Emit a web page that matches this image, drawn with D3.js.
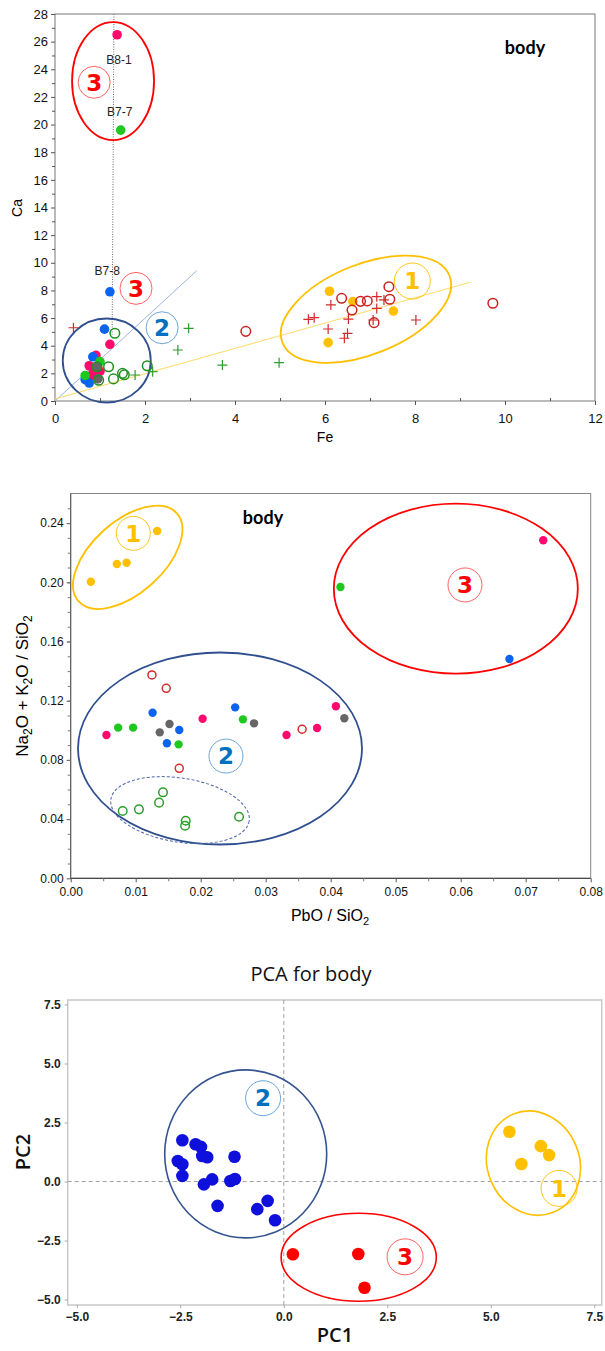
<!DOCTYPE html>
<html>
<head>
<meta charset="utf-8">
<script src="https://cdn.jsdelivr.net/npm/d3@7"></script>
<style>
  body { margin: 0; background: #fff; }
  svg { display: block; }
</style>
</head>
<body>
<div id="chart"></div>
<script>
// ---- panel 1 : Fe vs Ca ----
const feCaPink = [[1.38, 26.5], [1.22, 4.1], [0.91, 3.3], [0.76, 2.55], [0.78, 1.8], [1.0, 2.15], [0.86, 2.1]];
const feCaGreen = [[1.46, 19.6], [0.67, 1.85], [1.0, 2.85]];
const feCaBlue = [[1.22, 7.9], [1.1, 5.2], [0.84, 3.2], [0.67, 1.55], [0.76, 1.3]];
const feCaGrey = [[0.93, 2.45], [0.95, 1.6]];
const feCaYellow = [[6.1, 7.94], [6.62, 7.19], [7.52, 6.51], [6.07, 4.22]];
const feCaRedOpen = [[6.37, 7.43], [6.6, 6.58], [6.79, 7.21], [6.94, 7.24], [7.42, 8.27], [7.44, 7.36], [7.09, 5.67], [9.73, 7.07], [4.24, 5.04]];
const feCaGreenOpen = [[1.33, 4.9], [2.05, 2.55], [1.5, 2.0], [1.54, 1.9], [1.3, 1.6], [1.19, 2.48], [0.97, 1.5], [0.93, 2.48]];
const feCaRedPlus = [[0.41, 5.3], [6.13, 6.95], [5.63, 5.91], [5.76, 6.03], [6.07, 5.21], [6.52, 5.93], [6.5, 4.9], [6.43, 4.54], [7.15, 7.55], [7.15, 6.7], [7.07, 5.86], [7.31, 7.31], [8.02, 5.86]];
const feCaGreenPlus = [[2.97, 5.26], [2.73, 3.69], [3.72, 2.6], [4.98, 2.77], [2.17, 2.12], [1.78, 1.88]];
const feCaLabels = [['B8-1', 1.42, 24.7], ['B7-7', 1.44, 20.9], ['B7-8', 1.16, 9.4]];
const feTicks = [0, 2, 4, 6, 8, 10, 12];
const caTicks = d3.range(0, 29, 2);

// ---- panel 2 : PbO/SiO2 vs (Na2O+K2O)/SiO2 ----
const pbNaYellow = [[0.0031, 0.2004], [0.0071, 0.2124], [0.0086, 0.2132], [0.0133, 0.2347]];
const pbNaPink = [[0.0727, 0.2284], [0.0055, 0.0968], [0.0203, 0.1078], [0.0332, 0.0968], [0.0379, 0.1016], [0.0408, 0.1162]];
const pbNaGreen = [[0.0415, 0.1968], [0.0073, 0.1018], [0.0096, 0.1018], [0.0166, 0.0905], [0.0265, 0.1074]];
const pbNaBlue = [[0.0675, 0.1482], [0.0126, 0.1119], [0.0167, 0.1002], [0.0148, 0.0912], [0.0253, 0.1155]];
const pbNaGrey = [[0.0137, 0.0986], [0.0152, 0.1043], [0.0282, 0.1047], [0.0421, 0.1081]];
const pbNaRedOpen = [[0.0125, 0.1374], [0.0147, 0.1284], [0.0167, 0.0743], [0.0356, 0.1007]];
const pbNaGreenOpen = [[0.0080, 0.0455], [0.0105, 0.0466], [0.0136, 0.0511], [0.0142, 0.0581], [0.0177, 0.0389], [0.0176, 0.0355], [0.0259, 0.0416]];
const pbTicks = d3.range(0, 0.081, 0.01);
const naTicks = d3.range(0, 0.241, 0.04);

// ---- panel 3 : PCA ----
const pcaGroup1 = [[5.45, 2.11], [6.21, 1.50], [6.41, 1.12], [5.74, 0.74]];
const pcaGroup2 = [[-2.45, 1.75], [-2.13, 1.58], [-2.0, 1.47], [-2.56, 0.87], [-2.45, 0.73], [-2.45, 0.24], [-1.97, 1.08], [-1.85, 1.03], [-1.19, 1.05], [-1.93, -0.12], [-1.73, 0.09], [-1.29, 0.02], [-1.18, 0.11], [-1.6, -1.03], [-0.64, -1.17], [-0.39, -0.82], [-0.21, -1.64]];
const pcaGroup3 = [[0.22, -3.08], [1.8, -3.07], [1.95, -4.5]];
const pcTicks = [-5, -2.5, 0, 2.5, 5, 7.5];

const RED = '#ff0000', BLUE2 = '#0070c0', GOLD = '#ffc000', NAVY = '#2f4f8f';

const svg = d3.select('#chart').append('svg')
  .attr('width', 605)
  .attr('height', 1351)
  .style('font-family', 'Liberation Sans, Arial, sans-serif');

function drawEllipse(g, x, y, e) {
  g.append('ellipse')
    .attr('transform', `translate(${x(e.cx)},${y(e.cy)}) rotate(${e.rot || 0})`)
    .attr('rx', e.rx)
    .attr('ry', e.ry)
    .attr('fill', 'none')
    .attr('stroke', e.color)
    .attr('stroke-width', e.w || 1.8)
    .attr('stroke-dasharray', e.dash || null);
}

function drawBadge(g, x, y, b) {
  g.append('circle')
    .attr('cx', x(b.cx)).attr('cy', y(b.cy)).attr('r', b.r)
    .attr('fill', 'none')
    .attr('stroke', b.ring || b.color)
    .attr('stroke-width', 0.9);
  g.append('text')
    .attr('x', x(b.cx)).attr('y', y(b.cy))
    .attr('dy', '0.36em')
    .attr('text-anchor', 'middle')
    .attr('font-family', 'DejaVu Sans')
    .attr('font-weight', 'bold')
    .attr('font-size', 23)
    .attr('fill', b.color)
    .text(b.label);
}

function drawPoints(g, x, y, pts, st) {
  if (st.shape === 'plus') {
    g.append('g').selectAll('path')
      .data(pts).enter().append('path')
      .attr('d', d => `M${x(d[0]) - 5},${y(d[1])}h10M${x(d[0])},${y(d[1]) - 5}v10`)
      .attr('stroke', st.color)
      .attr('stroke-width', 1.2);
  } else {
    g.append('g').selectAll('circle')
      .data(pts).enter().append('circle')
      .attr('cx', d => x(d[0]))
      .attr('cy', d => y(d[1]))
      .attr('r', st.r)
      .attr('fill', st.open ? 'none' : st.color)
      .attr('stroke', st.open ? st.color : 'none')
      .attr('stroke-width', 1.5);
  }
}

function styleAxis(ax, size, color) {
  ax.select('.domain').remove();
  ax.selectAll('line').attr('stroke', '#555');
  ax.selectAll('text').attr('font-size', size).attr('fill', color || '#111');
}

// =========== panel 1 ===========
{
  const x = d3.scaleLinear().domain([0, 12]).range([55, 595]);
  const y = d3.scaleLinear().domain([0, 28]).range([401, 14]);
  const g = svg.append('g');

  g.append('rect').attr('x', 55).attr('y', 14).attr('width', 540).attr('height', 387)
    .attr('fill', 'none').attr('stroke', '#777');

  const xa = g.append('g').attr('transform', 'translate(0,401)')
    .call(d3.axisBottom(x).tickValues(feTicks).tickSize(4).tickPadding(9));
  styleAxis(xa, 13);
  g.append('g').attr('transform', 'translate(0,401)')
    .call(d3.axisBottom(x).tickValues(d3.range(1, 12, 2)).tickSize(-3).tickFormat(''))
    .call(a => { a.select('.domain').remove(); a.selectAll('line').attr('stroke', '#555'); });
  const ya = g.append('g').attr('transform', 'translate(55,0)')
    .call(d3.axisLeft(y).tickValues(caTicks).tickSize(4).tickPadding(3));
  styleAxis(ya, 13);
  g.append('g').attr('transform', 'translate(55,0)')
    .call(d3.axisLeft(y).tickValues(d3.range(1, 28, 2)).tickSize(3).tickFormat(''))
    .call(a => { a.select('.domain').remove(); a.selectAll('line').attr('stroke', '#555'); });

  g.append('text').attr('x', 325).attr('y', 442).attr('text-anchor', 'middle')
    .attr('font-size', 14).text('Fe');
  g.append('text').attr('transform', 'translate(22,208) rotate(-90)').attr('text-anchor', 'middle')
    .attr('font-size', 14).text('Ca');
  g.append('text').attr('x', 525).attr('y', 54).attr('text-anchor', 'middle')
    .attr('font-family', 'Lato').attr('font-weight', 'bold').attr('font-size', 18).text('body');

  // guide lines
  const guides = [
    { p: [[0, 0], [3.15, 9.43]], color: '#9fb4dd', dash: null },
    { p: [[0, 0.15], [9.24, 8.6]], color: '#ffd966', dash: null },
    { p: [[1.31, 28], [1.27, 4.8]], color: '#666', dash: '1,1.5' }
  ];
  guides.forEach(l => {
    g.append('line')
      .attr('x1', x(l.p[0][0])).attr('y1', y(l.p[0][1]))
      .attr('x2', x(l.p[1][0])).attr('y2', y(l.p[1][1]))
      .attr('stroke', l.color).attr('stroke-width', 1)
      .attr('stroke-dasharray', l.dash);
  });

  drawEllipse(g, x, y, { cx: 1.29, cy: 23.15, rx: 41, ry: 59, color: RED });
  drawEllipse(g, x, y, { cx: 1.15, cy: 2.93, rx: 44, ry: 42, color: NAVY });
  drawEllipse(g, x, y, { cx: 6.91, cy: 6.64, rx: 90, ry: 45, rot: -22, color: GOLD });

  drawPoints(g, x, y, feCaRedPlus, { shape: 'plus', color: '#d42a2a' });
  drawPoints(g, x, y, feCaGreenPlus, { shape: 'plus', color: '#2e9e2e' });
  drawPoints(g, x, y, feCaPink, { r: 4.8, color: '#ff0a6c' });
  drawPoints(g, x, y, feCaBlue, { r: 4.8, color: '#0a64f0' });
  drawPoints(g, x, y, feCaGreen, { r: 4.8, color: '#1ec81e' });
  drawPoints(g, x, y, feCaGrey, { r: 4.8, color: '#666' });
  drawPoints(g, x, y, feCaYellow, { r: 4.8, color: GOLD });
  drawPoints(g, x, y, feCaRedOpen, { r: 4.8, open: true, color: '#cc1f1f' });
  drawPoints(g, x, y, feCaGreenOpen, { r: 4.8, open: true, color: '#1f8f1f' });

  g.selectAll('.lbl').data(feCaLabels).enter().append('text')
    .attr('x', d => x(d[1])).attr('y', d => y(d[2]))
    .attr('dy', '0.35em').attr('text-anchor', 'middle')
    .attr('font-size', 12).attr('fill', '#222')
    .text(d => d[0]);

  drawBadge(g, x, y, { cx: 0.87, cy: 23.06, r: 16, label: '3', color: RED, ring: '#ff5050' });
  drawBadge(g, x, y, { cx: 1.8, cy: 8.15, r: 16, label: '3', color: RED, ring: '#ff5050' });
  drawBadge(g, x, y, { cx: 2.38, cy: 5.3, r: 16, label: '2', color: BLUE2, ring: '#5b9bd5' });
  drawBadge(g, x, y, { cx: 7.94, cy: 8.68, r: 18, label: '1', color: GOLD });
}

// =========== panel 2 ===========
{
  const x = d3.scaleLinear().domain([0, 0.08]).range([70.7, 590.7]);
  const y = d3.scaleLinear().domain([0, 0.26]).range([878.3, 493.5]);
  const g = svg.append('g');

  g.append('rect').attr('x', 70.7).attr('y', 493.5).attr('width', 520).attr('height', 384.8)
    .attr('fill', 'none').attr('stroke', '#888');
  g.append('line').attr('x1', 70.7).attr('x2', 590.7).attr('y1', 878.3).attr('y2', 878.3).attr('stroke', '#333');
  g.append('line').attr('x1', 70.7).attr('x2', 70.7).attr('y1', 493.5).attr('y2', 878.3).attr('stroke', '#555');

  const xa = g.append('g').attr('transform', 'translate(0,878.3)')
    .call(d3.axisBottom(x).tickValues(pbTicks).tickFormat(d3.format('.2f')).tickSize(4).tickPadding(5));
  styleAxis(xa, 12);
  g.append('g').attr('transform', 'translate(0,878.3)')
    .call(d3.axisBottom(x).tickValues(d3.range(0.005, 0.08, 0.01)).tickSize(3).tickFormat(''))
    .call(a => { a.select('.domain').remove(); a.selectAll('line').attr('stroke', '#777'); });
  const ya = g.append('g').attr('transform', 'translate(70.7,0)')
    .call(d3.axisLeft(y).tickValues(naTicks).tickFormat(d3.format('.2f')).tickSize(4).tickPadding(3));
  styleAxis(ya, 12);
  g.append('g').attr('transform', 'translate(70.7,0)')
    .call(d3.axisLeft(y).tickValues(d3.range(0.01, 0.26, 0.01)).tickSize(3).tickFormat(''))
    .call(a => { a.select('.domain').remove(); a.selectAll('line').attr('stroke', '#777'); });

  const xl = g.append('text').attr('x', 330).attr('y', 921).attr('text-anchor', 'middle').attr('font-size', 16);
  xl.append('tspan').text('PbO / SiO');
  xl.append('tspan').attr('font-size', 11).attr('dy', 4).text('2');

  const yl = g.append('text').attr('transform', 'translate(28,686) rotate(-90)')
    .attr('text-anchor', 'middle').attr('font-size', 17);
  yl.append('tspan').text('Na');
  yl.append('tspan').attr('font-size', 12).attr('dy', 4).text('2');
  yl.append('tspan').attr('dy', -4).text('O + K');
  yl.append('tspan').attr('font-size', 12).attr('dy', 4).text('2');
  yl.append('tspan').attr('dy', -4).text('O / SiO');
  yl.append('tspan').attr('font-size', 12).attr('dy', 4).text('2');

  g.append('text').attr('x', 263).attr('y', 524).attr('text-anchor', 'middle')
    .attr('font-family', 'Lato').attr('font-weight', 'bold').attr('font-size', 18).text('body');

  drawEllipse(g, x, y, { cx: 0.00877, cy: 0.2169, rx: 66, ry: 36, rot: -42, color: GOLD });
  drawEllipse(g, x, y, { cx: 0.05925, cy: 0.1957, rx: 122, ry: 85, color: RED });
  drawEllipse(g, x, y, { cx: 0.02297, cy: 0.0877, rx: 142, ry: 96, color: NAVY });
  drawEllipse(g, x, y, { cx: 0.01682, cy: 0.0461, rx: 70, ry: 32, rot: 9, color: '#4a64a8', w: 1, dash: '3,2' });

  drawPoints(g, x, y, pbNaYellow, { r: 4.2, color: GOLD });
  drawPoints(g, x, y, pbNaPink, { r: 4.2, color: '#ff0a6c' });
  drawPoints(g, x, y, pbNaGreen, { r: 4.2, color: '#1ec81e' });
  drawPoints(g, x, y, pbNaBlue, { r: 4.2, color: '#0a64f0' });
  drawPoints(g, x, y, pbNaGrey, { r: 4.2, color: '#666' });
  drawPoints(g, x, y, pbNaRedOpen, { r: 4, open: true, color: '#d42a2a' });
  drawPoints(g, x, y, pbNaGreenOpen, { r: 4.3, open: true, color: '#2e9e2e' });

  drawBadge(g, x, y, { cx: 0.00963, cy: 0.2331, r: 17, label: '1', color: GOLD });
  drawBadge(g, x, y, { cx: 0.06066, cy: 0.1982, r: 17, label: '3', color: RED, ring: '#ff5050' });
  drawBadge(g, x, y, { cx: 0.02389, cy: 0.0826, r: 17, label: '2', color: BLUE2, ring: '#5b9bd5' });
}

// =========== panel 3 ===========
{
  const x = d3.scaleLinear().domain([-5.22, 7.68]).range([67.7, 601.7]);
  const y = d3.scaleLinear().domain([-5.23, 7.69]).range([1305, 1000]);
  const g = svg.append('g').style('font-family', 'Open Sans, Noto Sans, sans-serif');

  g.append('rect').attr('x', 67.7).attr('y', 1000).attr('width', 534).attr('height', 305)
    .attr('fill', 'none').attr('stroke', '#c8c8c8').attr('stroke-width', 1.5);

  g.append('line').attr('x1', x(0)).attr('x2', x(0)).attr('y1', 1000).attr('y2', 1305)
    .attr('stroke', '#a0a0a0').attr('stroke-dasharray', '4,3');
  g.append('line').attr('x1', 67.7).attr('x2', 601.7).attr('y1', y(0)).attr('y2', y(0))
    .attr('stroke', '#a0a0a0').attr('stroke-dasharray', '4,3');

  const xa = g.append('g').attr('transform', 'translate(0,1305)')
    .call(d3.axisBottom(x).tickValues(pcTicks).tickFormat(d3.format('.1f')).tickSize(3).tickPadding(4));
  styleAxis(xa, 12, '#222');
  const ya = g.append('g').attr('transform', 'translate(67.7,0)')
    .call(d3.axisLeft(y).tickValues(pcTicks).tickFormat(d3.format('.1f')).tickSize(3).tickPadding(4));
  styleAxis(ya, 12, '#222');
  g.selectAll('.tick text').attr('font-weight', 600);
  g.selectAll('.tick line').attr('stroke', '#aaa');

  g.append('text').attr('x', 311).attr('y', 981).attr('text-anchor', 'middle')
    .attr('font-size', 20).attr('fill', '#111').text('PCA for body');
  g.append('text').attr('x', 335).attr('y', 1342).attr('text-anchor', 'middle')
    .attr('font-size', 20).attr('font-weight', 600).attr('fill', '#111').text('PC1');
  g.append('text').attr('transform', 'translate(30,1152) rotate(-90)').attr('text-anchor', 'middle')
    .attr('font-size', 20).attr('font-weight', 600).attr('fill', '#111').text('PC2');

  drawEllipse(g, x, y, { cx: -0.92, cy: 1.17, rx: 81, ry: 84, color: '#34548f', w: 1.6 });
  drawEllipse(g, x, y, { cx: 1.81, cy: -3.21, rx: 77.6, ry: 44, color: RED, w: 1.6 });
  drawEllipse(g, x, y, { cx: 6.03, cy: 0.78, rx: 46, ry: 53, rot: -22, color: GOLD, w: 1.6 });

  drawPoints(g, x, y, pcaGroup2, { r: 6.3, color: '#1010dc' });
  drawPoints(g, x, y, pcaGroup3, { r: 6.3, color: '#ff0000' });
  drawPoints(g, x, y, pcaGroup1, { r: 6.3, color: GOLD });

  drawBadge(g, x, y, { cx: -0.5, cy: 3.53, r: 17.5, label: '2', color: BLUE2, ring: '#5b9bd5' });
  drawBadge(g, x, y, { cx: 2.93, cy: -3.19, r: 18, label: '3', color: RED, ring: '#ff5050' });
  drawBadge(g, x, y, { cx: 6.65, cy: -0.29, r: 18, label: '1', color: GOLD });
}
</script>
</body>
</html>
